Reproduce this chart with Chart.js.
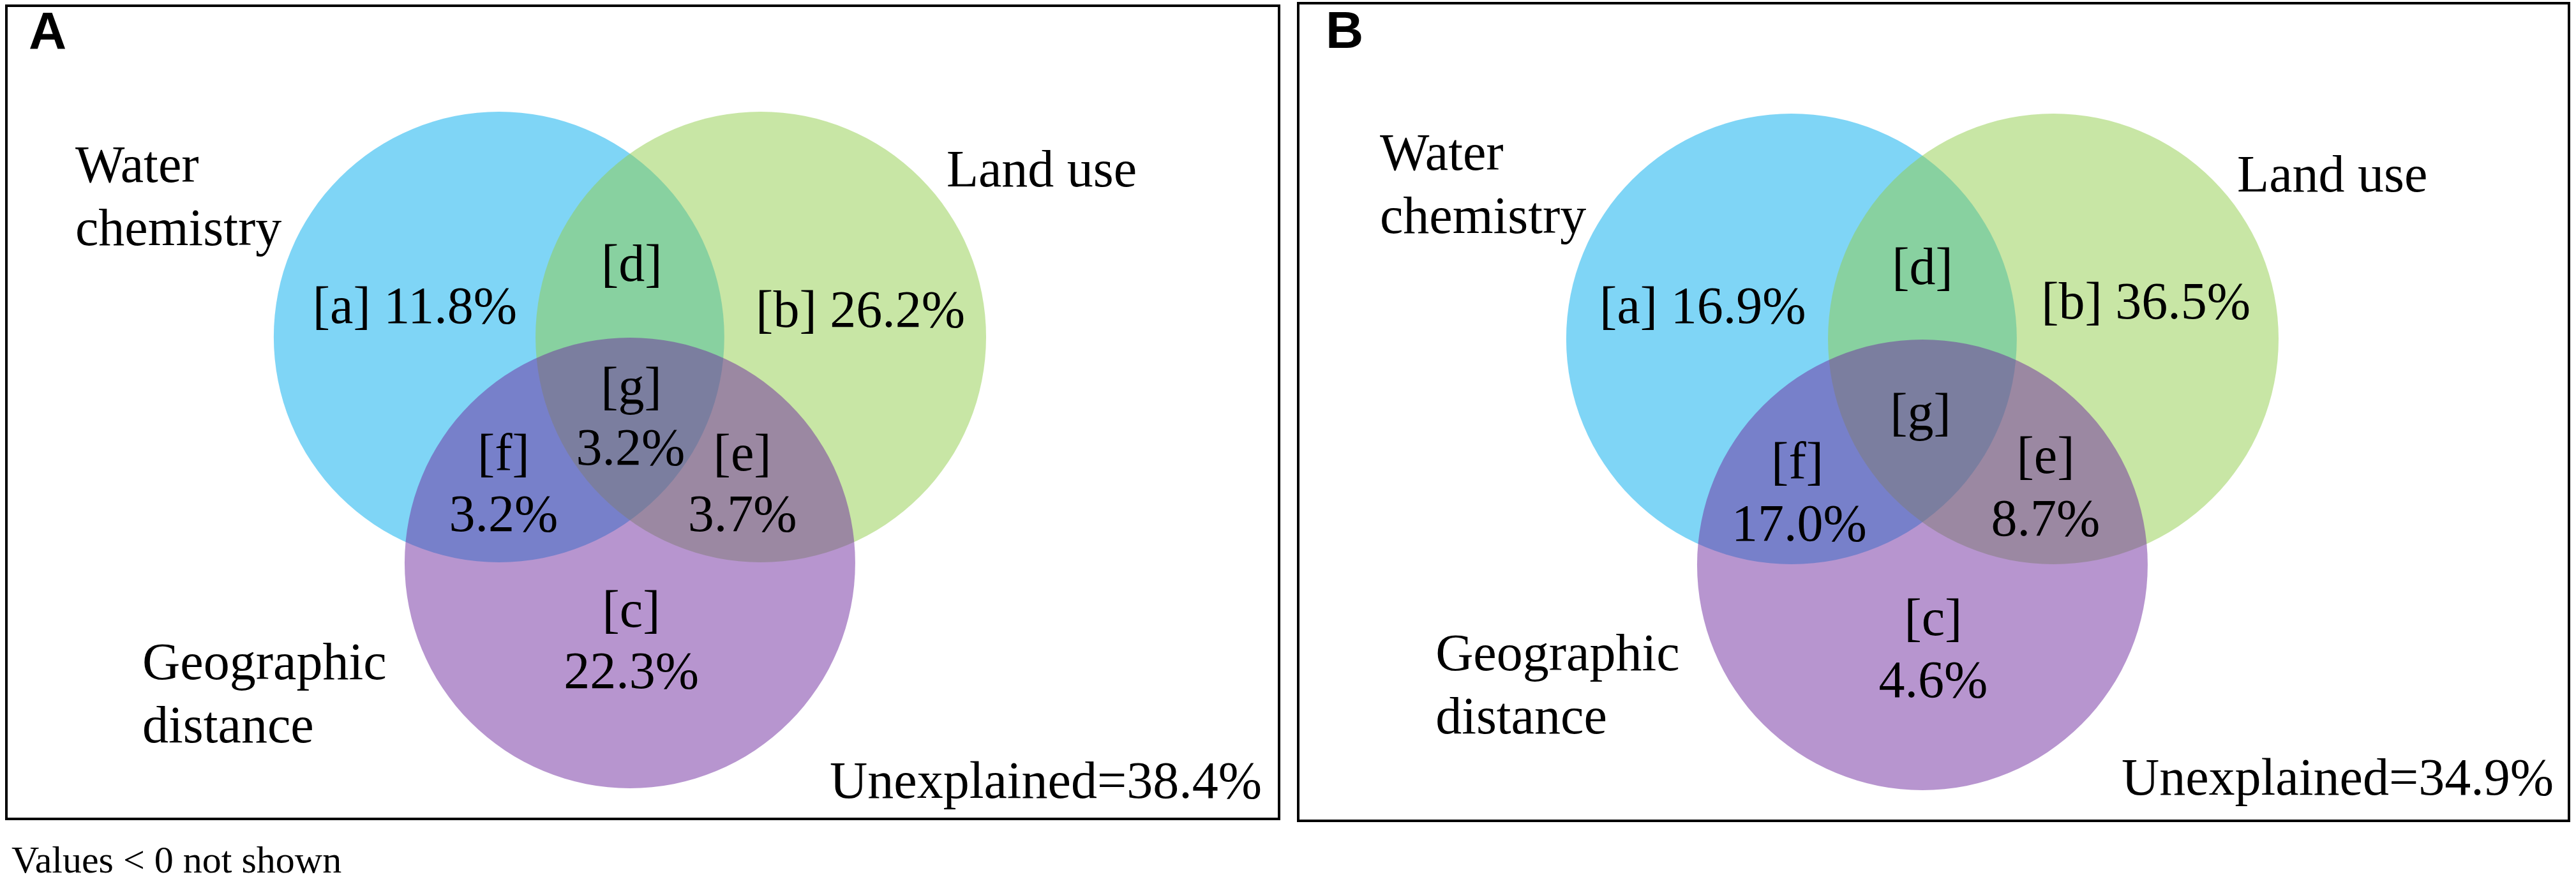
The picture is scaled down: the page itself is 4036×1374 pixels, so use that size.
<!DOCTYPE html>
<html>
<head>
<meta charset="utf-8">
<script src="https://cdn.jsdelivr.net/npm/chart.js@4.4.1/dist/chart.umd.min.js"></script>
<style>
html, body { margin: 0; padding: 0; background: #fff; overflow: hidden; width: 4036px; height: 1374px; }
.panel { position: absolute; width: 2018px; height: 1374px; }
</style>
</head>
<body>
<div class="panel" style="left:0;top:0"><canvas id="chartA"></canvas></div>
<div class="panel" style="left:2025px;top:3px"><canvas id="chartB"></canvas></div>
<script>
// data
const panelLetters = ['A', 'B']
const setNames = ['Water\nchemistry', 'Land use', 'Geographic\ndistance']
const regions = ['a', 'b', 'c', 'd', 'e', 'f', 'g']
const valuesA = [11.8, 26.2, 22.3, null, 3.7, 3.2, 3.2]
const valuesB = [16.9, 36.5, 4.6, null, 8.7, 17.0, null]
const unexplained = [38.4, 34.9]
const note = 'Values < 0 not shown'

// venn geometry (units = circle radius)
const circleX = [-0.581, 0.581, 0]
const circleY = [0, 0, -1.003]
const circleR = 1
const colours = ['rgba(0,171,237,0.5)', 'rgba(145,205,75,0.5)', 'rgba(111,43,159,0.5)']
const inline = ['a', 'b']

// where the texts sit, same units as the circles
const layouts = [
    {
        names: [[-2.462, 0.688], [1.405, 0.669], [-2.164, -1.518]],
        tags: { a: [-0.955, 0.062], b: [1.023, 0.045], c: [0.006, -1.286], d: [0.008, 0.249],
                e: [0.499, -0.592], f: [-0.561, -0.592], g: [0.006, -0.295] },
        vals: { c: [0.006, -1.558], e: [0.499, -0.861], f: [-0.561, -0.861], g: [0.003, -0.567] },
        unexpl: [2.805, -2.045],
        box: [10, 9, 1994, 1274],
        letter: [45, 76]
    },
    {
        names: [[-2.408, 0.752], [1.397, 0.654], [-2.161, -1.470]],
        tags: { a: [-0.975, 0.071], b: [0.992, 0.090], c: [0.048, -1.315], d: [0.0, 0.243],
                e: [0.547, -0.595], f: [-0.555, -0.621] , g: [-0.008, -0.402] },
        vals: { c: [0.048, -1.589], e: [0.547, -0.873], f: [-0.547, -0.895] },
        unexpl: [2.802, -2.023],
        box: [9, 2, 1991, 1281],
        letter: [52, 72]
    }
]

const fmt = v => v.toFixed(1) + '%'
const serif = '"Liberation Serif", "Times New Roman", serif'

function textLayer(i) {
    const lay = layouts[i]
    const vals = i === 0 ? valuesA : valuesB
    return {
        id: 'textLayer' + i,
        afterDatasetsDraw(chart) {
            const ctx = chart.ctx
            const px = v => chart.scales.x.getPixelForValue(v)
            const py = v => chart.scales.y.getPixelForValue(v)
            ctx.save()
            ctx.fillStyle = '#000'
            ctx.font = '82px ' + serif
            ctx.textBaseline = 'alphabetic'

            ctx.textAlign = 'left'
            setNames.forEach((name, k) => {
                name.split('\n').forEach((line, j) => {
                    ctx.fillText(line, px(lay.names[k][0]), py(lay.names[k][1]) + j * 99)
                })
            })

            ctx.textAlign = 'center'
            regions.forEach((r, k) => {
                const v = vals[k]
                const t = lay.tags[r]
                const tag = '[' + r + ']'
                if (inline.includes(r)) {
                    ctx.fillText(tag + ' ' + fmt(v), px(t[0]), py(t[1]))
                    return
                }
                ctx.fillText(tag, px(t[0]), py(t[1]))
                if (v != null) {
                    const q = lay.vals[r]
                    ctx.fillText(fmt(v), px(q[0]), py(q[1]))
                }
            })

            ctx.textAlign = 'right'
            ctx.fillText('Unexplained=' + fmt(unexplained[i]), px(lay.unexpl[0]), py(lay.unexpl[1]))
            ctx.restore()
        },
        afterDraw(chart) {
            const ctx = chart.ctx
            ctx.save()
            ctx.strokeStyle = '#000'
            ctx.lineWidth = 4
            ctx.strokeRect(...lay.box)
            ctx.fillStyle = '#000'
            ctx.textAlign = 'left'
            ctx.textBaseline = 'alphabetic'
            ctx.font = 'bold 82px "Liberation Sans", Arial, sans-serif'
            ctx.fillText(panelLetters[i], lay.letter[0], lay.letter[1])
            if (i === 0) {
                ctx.font = '60px ' + serif
                ctx.fillText(note, 18, 1367)
            }
            ctx.restore()
        }
    }
}

const radiusPx = c => {
    const s = c.chart.scales.x
    return s.getPixelForValue(circleR) - s.getPixelForValue(0)
}

function makeChart(id, i) {
    const grafica = document.getElementById(id).getContext('2d')
    return new Chart(grafica, {
        type: 'scatter',
        data: {
            datasets: setNames.map((name, k) => ({
                label: name.replace('\n', ' '),
                data: [{ x: circleX[k], y: circleY[k] }],
                order: setNames.length - k,
                pointRadius: radiusPx,
                pointHoverRadius: radiusPx,
                pointBackgroundColor: colours[k],
                pointHoverBackgroundColor: colours[k],
                pointBorderWidth: 0,
                pointHoverBorderWidth: 0,
                clip: false
            }))
        },
        options: {
            responsive: true,
            maintainAspectRatio: false,
            animation: false,
            events: [],
            layout: { padding: 0 },
            plugins: { legend: { display: false }, tooltip: { enabled: false } },
            scales: {
                x: { type: 'linear', min: -2.796, max: 2.921, display: false },
                y: { type: 'linear', min: -2.397, max: 1.496, display: false }
            }
        },
        plugins: [textLayer(i)]
    })
}

makeChart('chartA', 0)
makeChart('chartB', 1)
</script>
</body>
</html>
